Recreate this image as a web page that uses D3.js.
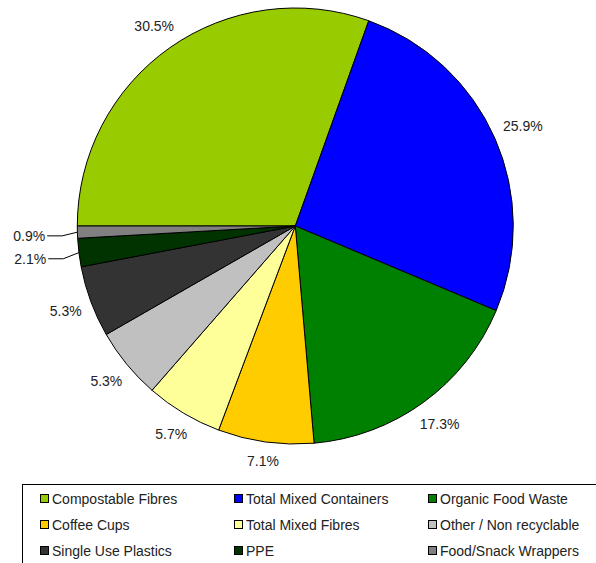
<!DOCTYPE html>
<html><head><meta charset="utf-8">
<script src="https://cdn.jsdelivr.net/npm/d3@7"></script>
<style>body{margin:0;background:#fff}svg{display:block}text{font-family:"Liberation Sans",Arial,sans-serif}</style>
</head><body>
<script>
const categories = ["Compostable Fibres","Total Mixed Containers","Organic Food Waste","Coffee Cups","Total Mixed Fibres","Other / Non recyclable","Single Use Plastics","PPE","Food/Snack Wrappers"];
const values = [30.5, 25.9, 17.3, 7.1, 5.7, 5.3, 5.3, 2.1, 0.9];
const valueLabels = ["30.5%","25.9%","17.3%","7.1%","5.7%","5.3%","5.3%","2.1%","0.9%"];
const colors = ["#99CC00","#0000FF","#008000","#FFCC00","#FFFF99","#C0C0C0","#333333","#003300","#808080"];

const W = 596, H = 563;
const cx = 295.3, cy = 226, R = 218;
const svg = d3.select("body").append("svg").attr("width", W).attr("height", H);

const pie = d3.pie().sort(null).value(d => d).startAngle(-Math.PI/2).endAngle(1.5*Math.PI);
const arcs = pie(values);
const arc = d3.arc().innerRadius(0).outerRadius(R);
const g = svg.append("g").attr("transform", `translate(${cx},${cy})`);
g.selectAll("path").data(arcs).join("path")
  .attr("d", arc).attr("fill", (d,i) => colors[i])
  .attr("stroke", "#000").attr("stroke-width", 1).attr("stroke-linejoin","round");

// labels
const fs = 14, lh = 16, gap = 9;
arcs.forEach((d,i) => {
  const a = (d.startAngle + d.endAngle)/2;
  const ux = Math.sin(a), uy = -Math.cos(a);
  const tw = valueLabels[i].length === 5 ? 40 : 32;
  const support = tw/2*Math.abs(ux) + lh/2*Math.abs(uy);
  const dist = R + gap + support;
  let x = ux*dist, y = uy*dist;
  const small = values[i] < 3;
  if (small) {
    x -= 23; y += 3;
    const ex = ux*R, ey = uy*R;
    const lx = x + tw/2 + 2;
    g.append("polyline")
      .attr("points", `${lx},${y} ${lx+15},${y} ${ex},${ey}`)
      .attr("fill","none").attr("stroke","#000").attr("stroke-width",1);
  }
  g.append("text").attr("x", x).attr("y", y).attr("dy","0.35em")
    .attr("text-anchor","middle").attr("font-size", fs).attr("fill","#222")
    .text(valueLabels[i]);
});

// legend
const lg = svg.append("g");
lg.append("rect").attr("x", 22.5).attr("y", 484.5).attr("width", 600).attr("height", 100)
  .attr("fill","#fff").attr("stroke","#000").attr("stroke-width",1);
const colX = [40, 234, 428], rowY = [499, 525, 551];
categories.forEach((c,i) => {
  const col = i % 3, row = Math.floor(i/3);
  const x = colX[col], y = rowY[row];
  lg.append("rect").attr("x", x+0.5).attr("y", y-4.5).attr("width", 8).attr("height", 8)
    .attr("fill", colors[i]).attr("stroke","#000").attr("stroke-width",1);
  lg.append("text").attr("x", x+12).attr("y", y).attr("dy","0.35em")
    .attr("font-size", fs).attr("fill","#222").text(c);
});
</script>
</body></html>
